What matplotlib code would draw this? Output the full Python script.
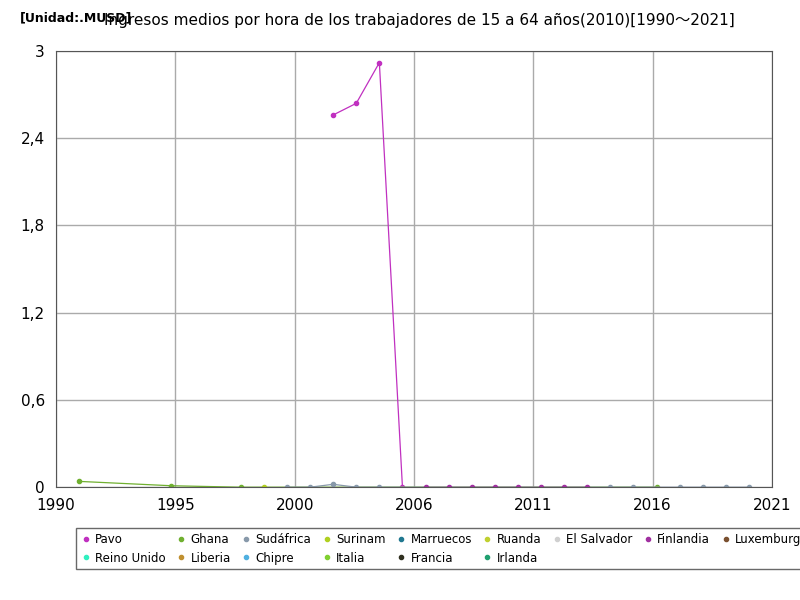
import matplotlib.pyplot as plt
import numpy as np

plt.rcParams['font.family'] = 'DejaVu Sans'

countries = ['Pavo', 'Ghana', 'Sudáfrica', 'Surinam', 'Marruecos', 'Ruanda', 'El Salvador',
             'Finlandia', 'Luxemburgo', 'Reino Unido', 'Liberia', 'Chipre', 'Italia', 'Francia', 'Irlanda']
colors = ['#c030c0', '#70b030', '#8899aa', '#b0d020', '#207890', '#c0d030', '#d0d0d0',
          '#a030a0', '#7a5030', '#30f0c0', '#c09030', '#50b0e0', '#80d030', '#303020', '#20a070']

# valores por serie (año, valor)
pavo_x = [2002, 2003, 2004, 2005]
pavo_y = [2.56, 2.64, 2.92, 0.0]
ghana_x = [1991, 1995, 1998, 2016]
ghana_y = [0.04, 0.01, 0.0, 0.0]
sudafrica_x = [2000, 2001, 2002, 2003, 2004, 2014, 2015, 2017, 2018, 2019, 2020]
sudafrica_y = [0.0, 0.0, 0.02, 0.0, 0.0, 0.0, 0.0, 0.0, 0.0, 0.0, 0.0]
surinam_x = [1999]
surinam_y = [0.0]
finlandia_x = [2006, 2007, 2008, 2009, 2010, 2011, 2012, 2013]
finlandia_y = [0.0, 0.0, 0.0, 0.0, 0.0, 0.0, 0.0, 0.0]

series = {
    'Pavo': (pavo_x, pavo_y),
    'Ghana': (ghana_x, ghana_y),
    'Sudáfrica': (sudafrica_x, sudafrica_y),
    'Surinam': (surinam_x, surinam_y),
    'Finlandia': (finlandia_x, finlandia_y),
}

fig, ax = plt.subplots(figsize=(8, 6), dpi=100)
fig.subplots_adjust(left=0.07, right=0.965, top=0.915, bottom=0.188)

handles = []
for name, c in zip(countries, colors):
    if name in series:
        x, y = series[name]
        h, = ax.plot(x, y, color=c, lw=0.9, marker='o', ms=3, label=name)
    else:
        h, = ax.plot([], [], color=c, lw=0.9, marker='o', ms=3, label=name)
    handles.append(h)

xt = np.linspace(1990, 2021, 7)
ax.set_xticks(xt)
ax.set_xticklabels(['1990', '1995', '2000', '2006', '2011', '2016', '2021'])
ax.set_xlim(1990, 2021)
ax.set_ylim(0, 3)
yt = [0, 0.6, 1.2, 1.8, 2.4, 3]
ax.set_yticks(yt)
ax.set_yticklabels(['0', '0,6', '1,2', '1,8', '2,4', '3'])
ax.tick_params(axis='x', labelsize=11, length=0, pad=8)
ax.tick_params(axis='y', labelsize=11, length=0, pad=8)
ax.grid(True, color='#aaaaaa', lw=1)
for s in ax.spines.values():
    s.set_color('#555555')

fig.text(0.13, 0.965, 'Ingresos medios por hora de los trabajadores de 15 a 64 años(2010)[1990～2021]',
         fontsize=11, va='center', family=['DejaVu Sans', 'Noto Sans CJK JP'])
fig.text(0.025, 0.97, '[Unidad:.MUSD]', fontsize=9, fontweight='bold', va='center')

# orden por filas: 9 en la primera, 6 en la segunda
order = [0, 9, 1, 10, 2, 11, 3, 12, 4, 13, 5, 14, 6, 7, 8]
leg = ax.legend([handles[i] for i in order], [countries[i] for i in order],
                loc='upper left', bbox_to_anchor=(0.02, -0.08), ncol=9, fontsize=8.5,
                handlelength=0.8, columnspacing=0.9, handletextpad=0.4, frameon=True,
                edgecolor='#444444', fancybox=False)
for h in leg.legend_handles:
    h.set_linestyle('')

fig.savefig('out.png')
